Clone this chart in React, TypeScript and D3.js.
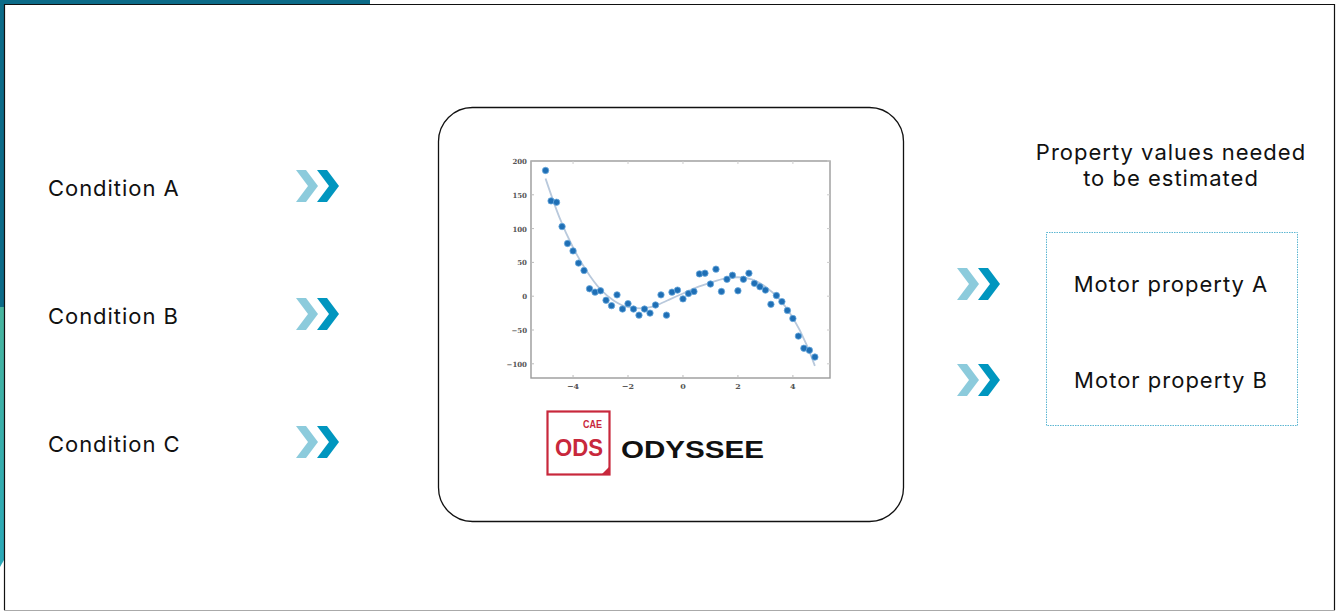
import React, { useEffect, useRef } from 'react';
import * as d3 from 'd3';

// scatter points
const pointX = [
  -5.0, -4.8, -4.6, -4.4, -4.2, -4.0, -3.8, -3.6, -3.4, -3.2,
  -3.0, -2.8, -2.6, -2.4, -2.2, -2.0, -1.8, -1.6, -1.4, -1.2,
  -1.0, -0.8, -0.6, -0.4, -0.2, 0.0, 0.2, 0.4, 0.6, 0.8,
  1.0, 1.2, 1.4, 1.6, 1.8, 2.0, 2.2, 2.4, 2.6, 2.8,
  3.0, 3.2, 3.4, 3.6, 3.8, 4.0, 4.2, 4.4, 4.6, 4.8,
];
const pointY = [
  186, 141, 139, 103, 78, 67, 49, 38, 11, 6,
  8, -6, -14, 2, -19, -11, -19, -28, -19, -25,
  -13, 2, -28, 6, 9, -4, 4, 7, 33, 34,
  18, 40, 7, 25, 31, 8, 25, 34, 19, 14,
  9, -12, 1, -8, -21, -33, -59, -77, -80, -90,
];
// fitted curve
const fitX = [-5, -4.5, -4, -3.5, -3, -2.5, -2, -1.5, -1, -0.5, 0, 0.5, 1, 1.5, 2, 2.5, 3, 3.5, 4, 4.5, 4.8];
const fitY = [174, 117, 72, 37, 10, -7, -16, -18, -14, -5, 4, 13, 20, 26, 28, 25, 14, -4, -32, -72, -103];

const xTicks = [-4, -2, 0, 2, 4];
const yTicks = [200, 150, 100, 50, 0, -50, -100];

const conditions = ['Condition A', 'Condition B', 'Condition C'];
const properties = ['Motor property A', 'Motor property B'];
const headerLines = ['Property values needed', 'to be estimated'];

const FONT = 'Inter, "Noto Sans", sans-serif';
const LOGO_FONT = '"Liberation Sans", Arial, sans-serif';

const Chevrons = ({ x, y }: { x: number; y: number }) => {
  const arrow = (ox: number) =>
    `M${ox},${y - 16} L${ox + 10},${y - 16} L${ox + 22},${y} L${ox + 10},${y + 16} L${ox},${y + 16} L${ox + 12},${y} Z`;
  return (
    <g>
      <path d={arrow(x)} fill="#8ccbdc" />
      <path d={arrow(x + 21)} fill="#0096bf" />
    </g>
  );
};

export default function App() {
  const plotRef = useRef<SVGGElement>(null);

  useEffect(() => {
    if (!plotRef.current) return;
    const g = d3.select(plotRef.current);
    g.selectAll('*').remove();

    const left = 531, right = 830, top = 161, bottom = 378;
    const x = d3.scaleLinear().domain([-5.53, 5.35]).range([left, right]);
    const y = d3.scaleLinear().domain([-121, 200]).range([bottom, top]);

    g.append('rect')
      .attr('x', left).attr('y', top)
      .attr('width', right - left).attr('height', bottom - top)
      .attr('fill', 'none').attr('stroke', '#9a9a9a').attr('stroke-width', 1.4);

    // small ticks
    xTicks.forEach(t => {
      g.append('line').attr('x1', x(t)).attr('x2', x(t)).attr('y1', bottom).attr('y2', bottom - 3)
        .attr('stroke', '#bbb');
      g.append('line').attr('x1', x(t)).attr('x2', x(t)).attr('y1', top).attr('y2', top + 3)
        .attr('stroke', '#ccc');
      g.append('text').attr('x', x(t)).attr('y', bottom + 11)
        .attr('text-anchor', 'middle')
        .style('font', 'bold 8px "DejaVu Serif", serif').attr('fill', '#555')
        .text(String(t).replace('-', '\u2212'));
    });
    yTicks.forEach(t => {
      g.append('line').attr('x1', left).attr('x2', left + 3).attr('y1', y(t)).attr('y2', y(t))
        .attr('stroke', '#bbb');
      g.append('line').attr('x1', right).attr('x2', right - 3).attr('y1', y(t)).attr('y2', y(t))
        .attr('stroke', '#ccc');
      g.append('text').attr('x', left - 4).attr('y', y(t) + 3)
        .attr('text-anchor', 'end')
        .style('font', 'bold 7px "DejaVu Serif", serif').attr('fill', '#555')
        .text(String(t).replace('-', '\u2212'));
    });

    const line = d3.line<number>()
      .x((_, i) => x(fitX[i]))
      .y(d => y(d))
      .curve(d3.curveMonotoneX);
    g.append('path').datum(fitY)
      .attr('d', line)
      .attr('fill', 'none').attr('stroke', '#b9c9dc').attr('stroke-width', 1.8);

    g.selectAll('circle.pt').data(pointY).join('circle')
      .attr('class', 'pt')
      .attr('cx', (_, i) => x(pointX[i]))
      .attr('cy', d => y(d))
      .attr('r', 3.2)
      .attr('fill', '#1f6fb5')
      .attr('stroke', '#6aa8dc').attr('stroke-width', 0.8);
  }, []);

  return (
    <svg width={1339} height={612} style={{ position: 'absolute', left: 0, top: 0, background: '#fff' }}>
      <defs>
        <linearGradient id="sideGrad" x1="0" y1="0" x2="0" y2="1">
          <stop offset="0" stopColor="#48b59e" />
          <stop offset="1" stopColor="#2aa8b8" />
        </linearGradient>
      </defs>
      {/* slide frame */}
      <rect x={0} y={0} width={370} height={4} fill="#0c6b88" />
      <rect x={0} y={0} width={4} height={307} fill="#0c6b88" />
      <path d="M0,307 L4,307 L4,560 L0,567 Z" fill="url(#sideGrad)" />
      <line x1={4.5} y1={4} x2={4.5} y2={610} stroke="#111" strokeWidth={1.2} />
      <line x1={4} y1={4.5} x2={1335} y2={4.5} stroke="#111" strokeWidth={1.2} />
      <line x1={1334.5} y1={4} x2={1334.5} y2={610} stroke="#111" strokeWidth={1.2} />
      <line x1={4} y1={610.5} x2={1335} y2={610.5} stroke="#aaa" strokeWidth={1.2} />

      {/* conditions */}
      {conditions.map((c, i) => (
        <g key={c}>
          <text x={48} y={196 + i * 128} fontFamily={FONT} fontSize={22} letterSpacing={0.95} fill="#111">{c}</text>
          <Chevrons x={296} y={186 + i * 128} />
        </g>
      ))}

      {/* central box */}
      <rect x={438.5} y={107.5} width={465} height={414} rx={34} fill="#fff" stroke="#111" strokeWidth={1.3} />
      <g ref={plotRef} />

      {/* logo */}
      <rect x={547.5} y={411.5} width={62} height={63} fill="#fff" stroke="#c8283c" strokeWidth={2.2} />
      <path d="M602,474 L610,466 L610,474 Z" fill="#c8283c" />
      <text x={583} y={428} fontFamily={LOGO_FONT} fontWeight="bold" fontSize={10} fill="#c8283c" textLength={19} lengthAdjust="spacingAndGlyphs">CAE</text>
      <text x={555} y={456} fontFamily={LOGO_FONT} fontWeight="bold" fontSize={23} fill="#c8283c" textLength={48} lengthAdjust="spacingAndGlyphs">ODS</text>
      <text x={621} y={458} fontFamily={LOGO_FONT} fontWeight="bold" fontSize={24} fill="#111" textLength={143} lengthAdjust="spacingAndGlyphs">ODYSSEE</text>

      {/* right side */}
      {headerLines.map((t, i) => (
        <text key={t} x={1171} y={160 + i * 26} textAnchor="middle" fontFamily={FONT} fontSize={22} letterSpacing={1} fill="#111">{t}</text>
      ))}
      <rect x={1046.5} y={232.5} width={251} height={193} fill="none" stroke="#5cb6d2" strokeWidth={1} strokeDasharray="1.5 1" />
      {properties.map((p, i) => (
        <g key={p}>
          <Chevrons x={957} y={284 + i * 96} />
          <text x={1171} y={292 + i * 96} textAnchor="middle" fontFamily={FONT} fontSize={22} letterSpacing={1} fill="#111">{p}</text>
        </g>
      ))}
    </svg>
  );
}
